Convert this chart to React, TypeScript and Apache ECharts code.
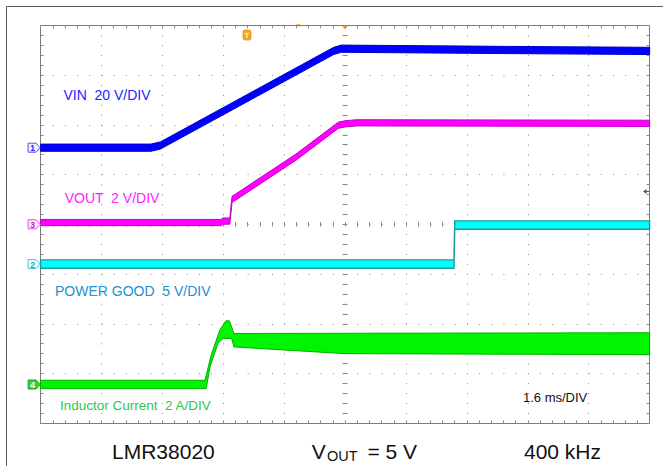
import React, { useEffect, useRef } from 'react';
import * as echarts from 'echarts';

// ---- Time base: 10 divisions x 1.6 ms/DIV ----
const TIME_MIN_MS = 0;
const TIME_MAX_MS = 16;
const TIME_DIV_MS = 1.6;

// ---- Channel 1: VIN (V), 20 V/DIV ----
const vinTimeMs = [0, 2.9, 3.15, 7.7, 7.9, 12, 16];
const vinVolts = [0, 0, 0.9, 38.9, 39.8, 39.3, 38.9];

// ---- Channel 3: VOUT (V), 2 V/DIV ----
const voutTimeMs = [0, 4.75, 4.78, 4.97, 5.03, 6.71, 7.82, 8.0, 8.3, 16];
const voutVolts = [0.07, 0.07, 0.13, 0.13, 1.0, 2.7, 3.98, 4.04, 4.08, 4.06];

// ---- Channel 2: POWER GOOD (V), 5 V/DIV ----
const pgTimeMs = [0, 10.86, 10.88, 16];
const pgVolts = [0, 0, 3.92, 3.92];

// ---- Channel 4: Inductor current envelope (A), 2 A/DIV ----
const ilUpperTimeMs = [0, 4.32, 4.48, 4.71, 4.87, 4.96, 5.08, 8.0, 16];
const ilUpperAmps = [0.17, 0.17, 1.18, 2.19, 2.56, 2.56, 2.05, 2.06, 2.08];
const ilLowerTimeMs = [0, 4.35, 4.45, 4.66, 4.79, 5.02, 5.08, 8.0, 16];
const ilLowerAmps = [-0.165, -0.165, 0.7, 1.66, 1.85, 1.85, 1.51, 1.24, 1.2];

// ---- Channel settings: units per division and ground offset (div from centre) ----
const channelNames = ['1', '2', '3', '4'];
const channelScale = { vin: 20, pg: 5, vout: 2, il: 2 };
const channelOffsetDiv = { vin: 1.54, pg: -0.8, vout: 0, il: -3.22 };

const FONT = '"Liberation Sans", Arial, Helvetica, sans-serif';

function toDiv(times: number[], vals: number[], scale: number, offset: number) {
  return times.map((t, i) => [t, offset + vals[i] / scale]);
}

function band(
  upper: number[][],
  lower: number[][],
  halfPx: number,
  fill: string,
  stroke: string,
  strokeW: number,
  z: number
) {
  return {
    type: 'custom',
    coordinateSystem: 'cartesian2d',
    xAxisIndex: 0,
    yAxisIndex: 0,
    data: [[upper[0][0], upper[0][1]]],
    clip: false,
    silent: true,
    z,
    renderItem: (_p: any, api: any) => {
      const pts: number[][] = [];
      for (const p of upper) {
        const c = api.coord(p);
        pts.push([c[0], c[1] - halfPx]);
      }
      for (let i = lower.length - 1; i >= 0; i--) {
        const c = api.coord(lower[i]);
        pts.push([c[0], c[1] + halfPx]);
      }
      return {
        type: 'polygon',
        shape: { points: pts },
        style: { fill, stroke, lineWidth: strokeW },
      };
    },
  };
}

const markerStyles: Record<string, { stroke: string; fill: string; text: string }> = {
  '1': { stroke: '#5050ff', fill: '#f2f2ff', text: '#2020ff' },
  '2': { stroke: '#40c8d0', fill: '#f0ffff', text: '#20a8b0' },
  '3': { stroke: '#d850d8', fill: '#fff0ff', text: '#c020c0' },
  '4': { stroke: '#20a020', fill: '#38d038', text: '#ffffff' },
};

export default function App() {
  const ref = useRef<HTMLDivElement>(null);

  useEffect(() => {
    if (!ref.current) return;
    const chart = echarts.init(ref.current, undefined, { renderer: 'svg' });

    const vin = toDiv(vinTimeMs, vinVolts, channelScale.vin, channelOffsetDiv.vin);
    const vout = toDiv(voutTimeMs, voutVolts, channelScale.vout, channelOffsetDiv.vout);
    const pg = toDiv(pgTimeMs, pgVolts, channelScale.pg, channelOffsetDiv.pg);
    const ilU = toDiv(ilUpperTimeMs, ilUpperAmps, channelScale.il, channelOffsetDiv.il);
    const ilL = toDiv(ilLowerTimeMs, ilLowerAmps, channelScale.il, channelOffsetDiv.il);

    const markerData = [
      [TIME_MIN_MS, channelOffsetDiv.vin, 0],
      [TIME_MIN_MS, channelOffsetDiv.pg, 1],
      [TIME_MIN_MS, channelOffsetDiv.vout, 2],
      [TIME_MIN_MS, channelOffsetDiv.il, 3],
    ];

    const tickColor = '#8a8a8a';
    const borderAxisX = (position: string, split: boolean) => ({
      type: 'value',
      position,
      min: TIME_MIN_MS,
      max: TIME_MAX_MS,
      interval: TIME_DIV_MS,
      axisLabel: { show: false },
      axisLine: { show: true, onZero: false, lineStyle: { color: '#7a7a7a', width: 1 } },
      axisTick: { show: true, inside: true, length: 3, lineStyle: { color: tickColor } },
      minorTick: { show: true, splitNumber: 5, length: 3, lineStyle: { color: tickColor } },
      splitLine: split
        ? { show: true, lineStyle: { color: '#8c8c8c', width: 1, type: [1, 8.94] } }
        : { show: false },
    });
    const centreAxisX = (position: string) => ({
      type: 'value',
      position,
      offset: -198.85,
      min: TIME_MIN_MS,
      max: TIME_MAX_MS,
      interval: TIME_DIV_MS,
      axisLabel: { show: false },
      axisLine: { show: false, onZero: false },
      axisTick: { show: true, inside: true, length: 2.5, lineStyle: { color: tickColor } },
      minorTick: { show: true, splitNumber: 5, length: 2.5, lineStyle: { color: tickColor } },
      splitLine: { show: false },
    });
    const borderAxisY = (position: string, split: boolean) => ({
      type: 'value',
      position,
      min: -4,
      max: 4,
      interval: 1,
      axisLabel: { show: false },
      axisLine: { show: true, onZero: false, lineStyle: { color: '#7a7a7a', width: 1 } },
      axisTick: { show: true, inside: true, length: 3, lineStyle: { color: tickColor } },
      minorTick: { show: true, splitNumber: 5, length: 3, lineStyle: { color: tickColor } },
      splitLine: split
        ? { show: true, lineStyle: { color: '#8c8c8c', width: 1, type: [1, 11.18] } }
        : { show: false },
    });
    const centreAxisY = (position: string) => ({
      type: 'value',
      position,
      offset: -304.5,
      min: -4,
      max: 4,
      interval: 1,
      axisLabel: { show: false },
      axisLine: { show: false, onZero: false },
      axisTick: { show: true, inside: true, length: 2.5, lineStyle: { color: tickColor } },
      minorTick: { show: true, splitNumber: 5, length: 2.5, lineStyle: { color: tickColor } },
      splitLine: { show: false },
    });

    const text = (x: number, y: number, t: string, size: number, fill: string) => ({
      type: 'text',
      x,
      y,
      silent: true,
      style: {
        text: t,
        fill,
        fontSize: size,
        fontFamily: FONT,
        align: 'left',
        verticalAlign: 'middle',
      },
    });

    chart.setOption({
      animation: false,
      backgroundColor: '#ffffff',
      grid: { left: 40.6, top: 25.3, width: 609, height: 398, show: false },
      xAxis: [
        borderAxisX('bottom', true),
        borderAxisX('top', false),
        centreAxisX('top'),
        centreAxisX('bottom'),
      ],
      yAxis: [
        borderAxisY('left', true),
        borderAxisY('right', false),
        centreAxisY('left'),
        centreAxisY('right'),
      ],
      series: [
        band(ilU, ilL, 0, '#00f500', '#00b000', 1, 2),
        band(pg, pg, 4.2, '#00ffff', '#1a9c9c', 1.4, 3),
        band(vout, vout, 3.1, '#ff00ff', '#c400c4', 1, 4),
        band(vin, vin, 3.6, '#0000ff', '#0000cc', 1, 5),
        {
          type: 'custom',
          coordinateSystem: 'cartesian2d',
          data: markerData,
          clip: false,
          silent: true,
          z: 6,
          renderItem: (_p: any, api: any) => {
            const c = api.coord([api.value(0), api.value(1)]);
            const name = channelNames[api.value(2)];
            const s = markerStyles[name];
            const x = c[0];
            const y = c[1];
            return {
              type: 'group',
              children: [
                {
                  type: 'polygon',
                  shape: {
                    points: [
                      [x - 12.5, y - 4.5],
                      [x - 4.5, y - 4.5],
                      [x - 0.5, y],
                      [x - 4.5, y + 4.5],
                      [x - 12.5, y + 4.5],
                    ],
                  },
                  style: { fill: s.fill, stroke: s.stroke, lineWidth: 1 },
                },
                {
                  type: 'text',
                  x: x - 8,
                  y: y + 0.5,
                  style: {
                    text: name,
                    fill: s.text,
                    fontSize: 8.5,
                    fontWeight: 'bold',
                    fontFamily: FONT,
                    align: 'center',
                    verticalAlign: 'middle',
                  },
                },
              ],
            };
          },
        },
      ],
      graphic: [
        {
          type: 'rect',
          silent: true,
          shape: { x: 6.5, y: 6.5, width: 720, height: 520 },
          style: { fill: 'none', stroke: '#5a5a5a', lineWidth: 1 },
        },
        text(63.4, 94.5, 'VIN  20 V/DIV', 14, '#2424ff'),
        text(64.7, 198.3, 'VOUT  2 V/DIV', 14, '#ff22ff'),
        text(55, 290.5, 'POWER GOOD  5 V/DIV', 14, '#2290d2'),
        text(60, 405, 'Inductor Current  2 A/DIV', 13.5, '#2ec84a'),
        text(523, 397.8, '1.6 ms/DIV', 13, '#111111'),
        text(112, 451, 'LMR38020', 21, '#111111'),
        text(311.7, 451, 'V', 21, '#111111'),
        text(327, 455.5, 'OUT', 14.5, '#111111'),
        text(367.5, 451, '= 5 V', 21, '#111111'),
        text(524, 451, '400 kHz', 21, '#111111'),
        // trigger position marker
        {
          type: 'rect',
          silent: true,
          shape: { x: 243, y: 30, width: 8, height: 10, r: 2 },
          style: { fill: '#f5a623', stroke: '#e8901a', lineWidth: 0.8 },
        },
        {
          type: 'text',
          silent: true,
          x: 247,
          y: 35.3,
          style: {
            text: 'T',
            fill: '#fff4d8',
            fontSize: 8,
            fontWeight: 'bold',
            fontFamily: FONT,
            align: 'center',
            verticalAlign: 'middle',
          },
        },
        {
          type: 'polygon',
          silent: true,
          shape: { points: [[341.5, 25], [348.5, 25], [345, 29.5]] },
          style: { fill: '#f0a030' },
        },
        {
          type: 'rect',
          silent: true,
          shape: { x: 296, y: 24.3, width: 4.5, height: 2 },
          style: { fill: '#f0a030' },
        },
        // trigger level marker (right)
        {
          type: 'polygon',
          silent: true,
          shape: { points: [[643, 191.5], [646.5, 189], [646.5, 194]] },
          style: { fill: '#a020a0' },
        },
        {
          type: 'line',
          silent: true,
          shape: { x1: 646, y1: 191.5, x2: 649, y2: 191.5 },
          style: { stroke: '#a020a0', lineWidth: 1 },
        },
      ],
    });

    return () => chart.dispose();
  }, []);

  return (
    <div
      ref={ref}
      style={{ position: 'fixed', left: 0, top: 0, width: 663, height: 466, background: '#fff' }}
    />
  );
}
